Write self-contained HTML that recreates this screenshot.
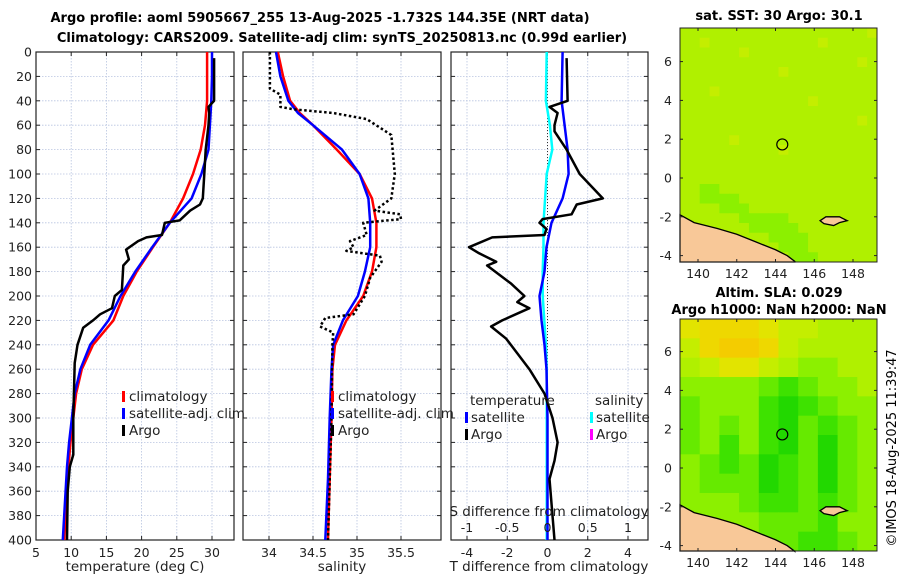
<!DOCTYPE html>
<html><head><meta charset="utf-8"><style>
body{margin:0;background:#fff}
svg{font-family:"DejaVu Sans","Liberation Sans",sans-serif}
</style></head><body>
<svg id="fig" width="900" height="580" xmlns="http://www.w3.org/2000/svg">
<text x="320" y="22" font-size="13" font-weight="bold" text-anchor="middle">Argo profile: aoml 5905667_255 13-Aug-2025 -1.732S 144.35E (NRT data)</text>
<text x="342" y="42" font-size="13" font-weight="bold" text-anchor="middle">Climatology: CARS2009. Satellite-adj clim: synTS_20250813.nc (0.99d earlier)</text>
<text x="779" y="20" font-size="13" font-weight="bold" text-anchor="middle">sat. SST: 30 Argo: 30.1</text>
<text x="779" y="297" font-size="13" font-weight="bold" text-anchor="middle">Altim. SLA: 0.029</text>
<text x="779" y="314" font-size="13" font-weight="bold" text-anchor="middle">Argo h1000: NaN h2000: NaN</text>
<text transform="translate(896,448) rotate(-90)" font-size="13" text-anchor="middle">©IMOS 18-Aug-2025 11:39:47</text>
<g id="plots"></g>
</svg>
<script>
// ---------- data ----------
const climDepth=[0,20,40,60,80,100,120,140,160,180,200,220,240,260,280,300,320,340,360,380,400];
const climT=[29.3,29.3,29.3,29.0,28.4,27.3,25.9,24.0,21.6,19.3,17.4,16.0,13.1,11.5,10.7,10.3,9.9,9.6,9.4,9.2,9.0];
const satT=[30.0,30.0,29.9,29.7,29.5,28.5,27.1,24.0,21.5,19.1,17.0,15.3,12.7,11.3,10.5,10.1,9.7,9.4,9.2,9.0,8.8];
const argoTDepth=[5,40,45,50,60,80,100,120,125,130,138,140,150,152,155,162,170,175,195,200,210,215,220,226,240,255,300,330,340,360,400];
const argoT=[30.3,30.3,29.5,29.6,29.5,29.1,28.9,28.7,28.3,26.9,25.4,23.3,22.9,20.7,19.5,17.8,18.2,17.4,17.2,16.2,15.8,14.1,13.1,11.7,10.9,10.5,10.3,10.3,9.8,9.5,9.4];
const salDepth=[0,20,40,50,60,80,100,120,140,160,180,200,220,240,260,300,350,400];
const climS=[34.10,34.16,34.24,34.35,34.50,34.77,35.03,35.17,35.22,35.22,35.17,35.07,34.88,34.75,34.72,34.71,34.69,34.67];
const satS=[34.08,34.13,34.22,34.33,34.50,34.83,35.03,35.13,35.15,35.15,35.09,35.01,34.84,34.73,34.71,34.69,34.67,34.64];
const argoSDepth=[0,30,35,45,47,50,55,68,100,120,130,133,137,140,150,155,160,163,167,172,185,200,215,218,225,230,240,300,400];
const argoS=[34.01,34.01,34.13,34.13,34.28,34.73,35.11,35.39,35.43,35.39,35.20,35.49,35.50,35.07,35.11,34.92,34.96,34.88,35.26,35.28,35.15,35.09,34.96,34.64,34.58,34.73,34.72,34.71,34.67];
const diffDepth=[0,40,60,80,100,120,140,160,180,200,220,240,260,300,400];
const satTdiff=[0.75,0.7,0.85,1.0,1.05,0.75,0.2,-0.05,-0.15,-0.4,-0.3,-0.15,-0.05,0,0];
const satSdiff=[-0.01,-0.02,0.03,0.06,-0.01,-0.03,-0.05,-0.05,-0.06,-0.06,-0.04,-0.02,-0.01,-0.01,-0.01];
const argoDiffDepth=[5,40,45,50,60,65,80,100,120,125,133,137,140,145,150,152,160,165,172,175,190,200,205,210,220,225,235,260,280,300,320,335,350,380,400];
const argoTdiff=[0.95,1.0,0.1,0.5,0.35,0.35,0.95,1.6,2.75,1.45,1.2,-0.25,-0.4,-0.05,-0.15,-2.75,-3.9,-3.4,-2.55,-3.0,-1.8,-1.15,-1.5,-0.9,-2.25,-2.8,-2.05,-0.9,-0.15,0.25,0.5,0.35,0.1,0.25,0.35];
const depthTicks=[0,20,40,60,80,100,120,140,160,180,200,220,240,260,280,300,320,340,360,380,400];
const tTicks=[5,10,15,20,25,30];
const sTicks=[34,34.5,35,35.5];
const sTickLabels=["34","34.5","35","35.5"];
const dTicks=[-4,-2,0,2,4];
const sdTicks=[-1,-0.5,0,0.5,1];
const sdTickLabels=["-1","-0.5","0","0.5","1"];
const lonTicks=[140,142,144,146,148];
const latTicks1=[6,4,2,0,-2,-4];
const latTicks2=[6,4,2,0,-2,-4];
const sstGrid=["55555555555555555556","55655555555555655555","55555565555555555555","55555555555555555565","55555555556555555555","55555555555555555555","55565555555555555555","55555555555556555555","55555555555555555555","55555555555555555565","55555555555555555555","55555655555555555555","55555555556555555555","55555555555555555555","55555555555555555555","55555555555555555555","55445555555555555555","55444455555555555555","55554445555555555555","55555544444555555555","55555554444455555555","55555555544445555555","55555555554445555555","55555555555444555555"];
const slaGrid=["7888766555","6899865555","5677654455","4444323445","3444212344","3434213234","3424213134","4323123134","4333123134","4443223234","4444333244","4444332234"];
const profLon=144.35, profLat=1.73;
// ---------- helpers ----------
const NS="http://www.w3.org/2000/svg";
const root=document.getElementById('plots');
function mk(tag,attrs,parent){const e=document.createElementNS(NS,tag);for(const k in attrs)e.setAttribute(k,attrs[k]);(parent||root).appendChild(e);return e;}
const Y0=52,Y1=540;
const yD=d=>Y0+(d/400)*(Y1-Y0);
function lin(d0,d1,p0,p1){return v=>p0+(v-d0)/(d1-d0)*(p1-p0);}
function panel(name,x0,x1,xs,ticks,labels,showY){
  const g=mk('g',{});
  
  
  ticks.forEach(t=>{const l=mk('line',{x1:xs(t),x2:xs(t),y1:Y0,y2:Y1,stroke:'#b8c4e0','stroke-width':0.8,'stroke-dasharray':'1.5,1.5'},g);
    });
  depthTicks.forEach(d=>{const l=mk('line',{x1:x0,x2:x1,y1:yD(d),y2:yD(d),stroke:'#b8c4e0','stroke-width':0.8,'stroke-dasharray':'1.5,1.5'},g);
    
    mk('line',{x1:x0,x2:x0+4,y1:yD(d),y2:yD(d),stroke:'#222'},g);mk('line',{x1:x1-4,x2:x1,y1:yD(d),y2:yD(d),stroke:'#222'},g);
    if(showY){const t=mk('text',{x:x0-4,y:yD(d)+4.5,'font-size':12.5,'text-anchor':'end',fill:'#222'},g);t.textContent=d;
      }});
  ticks.forEach((t,i)=>{mk('line',{x1:xs(t),x2:xs(t),y1:Y1,y2:Y1-4,stroke:'#222'},g);mk('line',{x1:xs(t),x2:xs(t),y1:Y0,y2:Y0+4,stroke:'#222'},g);
    const tx=mk('text',{x:xs(t),y:Y1+17,'font-size':12.5,'text-anchor':'middle',fill:'#222'},g);tx.textContent=labels[i];
    });
  mk('rect',{x:x0,y:Y0,width:x1-x0,height:Y1-Y0,fill:'none',stroke:'#222','stroke-width':1.2},g);
  return g;
}
function curve(g,name,xs,vals,depths,color,w,dash){
  const pts=vals.map((v,i)=>xs(v).toFixed(1)+','+yD(depths[i]).toFixed(1)).join(' ');
  const a={points:pts,fill:'none',stroke:color,'stroke-width':w,'stroke-linejoin':'round'};if(dash)a['stroke-dasharray']=dash;
  const p=mk('polyline',a,g);
  
  
}
function txt(g,name,x,y,s,size,anchor){const t=mk('text',{x:x,y:y,'font-size':size||12.5,'text-anchor':anchor||'start',fill:'#222'},g);t.textContent=s;
  return t;}
function legMark(g,name,x,y,color){const r=mk('rect',{x:x,y:y-10,width:3,height:11,fill:color},g);
  }
// ---------- panel 1 ----------
const xT=lin(5,30,36,212);
const g1=panel('temperature-panel',36,234,xT,tTicks,tTicks.map(String),true);
curve(g1,'temp-climatology-line',xT,climT,climDepth,'#ff0000',2.5);
curve(g1,'temp-satellite-line',xT,satT,climDepth,'#0000ff',2.5);
curve(g1,'temp-argo-line',xT,argoT,argoTDepth,'#000',2.5);
txt(g1,'temp-x-axis-title',135,571,'temperature (deg C)',13.5,'middle');
legMark(g1,'legend-climatology-mark',122,401,'#ff0000');txt(g1,'legend-climatology',129,401,'climatology',13.5);
legMark(g1,'legend-satellite-mark',122,418,'#0000ff');txt(g1,'legend-satellite',129,418,'satellite-adj. clim',13.5);
legMark(g1,'legend-argo-mark',122,435,'#000');txt(g1,'legend-argo',129,435,'Argo',13.5);
// ---------- panel 2 ----------
const xS=lin(34,35.5,269,401);
const g2=panel('salinity-panel',243,441,xS,sTicks,sTickLabels,false);
curve(g2,'sal-climatology-line',xS,climS,salDepth,'#ff0000',2.5);
curve(g2,'sal-satellite-line',xS,satS,salDepth,'#0000ff',2.5);
curve(g2,'sal-argo-line',xS,argoS,argoSDepth,'#000',2.5,'2.5,2.5');
txt(g2,'sal-x-axis-title',342,571,'salinity',13.5,'middle');
legMark(g2,'legend-climatology-mark',331,401,'#ff0000');txt(g2,'legend-climatology',338,401,'climatology',13.5);
legMark(g2,'legend-satellite-mark',331,418,'#0000ff');txt(g2,'legend-satellite',338,418,'satellite-adj. clim',13.5);
legMark(g2,'legend-argo-mark',331,435,'#000');txt(g2,'legend-argo',338,435,'Argo',13.5);
// ---------- panel 3 ----------
const xD=lin(-4,4,467,628);
const xSD=lin(-1,1,467,628);
const g3=panel('difference-panel',451,648,xD,dTicks,dTicks.map(String),false);
mk('line',{x1:xD(0),x2:xD(0),y1:Y0,y2:Y1,stroke:'#333','stroke-width':1,'stroke-dasharray':'1,2'},g3);
curve(g3,'sdiff-satellite-line',xSD,satSdiff,diffDepth,'#00ffff',2.5);
curve(g3,'tdiff-satellite-line',xD,satTdiff,diffDepth,'#0000ff',2.5);
curve(g3,'tdiff-argo-line',xD,argoTdiff,argoDiffDepth,'#000',2.5);
sdTicks.forEach((t,i)=>txt(g3,'sdiff-tick-label',xSD(t),532,sdTickLabels[i],12.5,'middle'));
txt(g3,'sdiff-axis-title',549,516,'S difference from climatology',13.5,'middle');
txt(g3,'tdiff-x-axis-title',549,571,'T difference from climatology',13.5,'middle');
txt(g3,'legend-temperature-heading',470,405,'temperature',13.5);
txt(g3,'legend-salinity-heading',595,405,'salinity',13.5);
legMark(g3,'legend-t-satellite-mark',465,422,'#0000ff');txt(g3,'legend-t-satellite',471,422,'satellite',13.5);
legMark(g3,'legend-t-argo-mark',465,439,'#000');txt(g3,'legend-t-argo',471,439,'Argo',13.5);
legMark(g3,'legend-s-satellite-mark',590,422,'#00ffff');txt(g3,'legend-s-satellite',596,422,'satellite',13.5);
legMark(g3,'legend-s-argo-mark',590,439,'#ff00ff');txt(g3,'legend-s-argo',596,439,'Argo',13.5);
// ---------- maps ----------
const cmap={"1":"#22d800","2":"#3ee200","3":"#66ea00","4":"#8cf000","5":"#b0f000","6":"#c4ee00","7":"#e2e400","8":"#eed800","9":"#f4cc00"};
function map(name,top,bottom,yLat0,grid,latTicks){
  const x0=680,x1=877;
  const xL=lin(140,148,698,853);
  const yL=lin(0,-2,yLat0,yLat0+38.8);
  const g=mk('g',{});
  
  
  const rows=grid.length, cols=grid[0].length;
  const lonL=140+(x0-698)/19.375, lonR=140+(x1-698)/19.375, latB=-(bottom-yLat0)/19.4, latT=(yLat0-top)/19.4;
  for(let r=0;r<rows;r++)for(let c=0;c<cols;c++){
    const lat0=latT - r*(latT-latB)/rows;
    const lat1=latT - (r+1)*(latT-latB)/rows;
    const lo0=lonL+c*(lonR-lonL)/cols, lo1=lonL+(c+1)*(lonR-lonL)/cols;
    const cell=mk('rect',{x:xL(lo0),y:yL(lat0),width:xL(lo1)-xL(lo0)+0.5,height:yL(lat1)-yL(lat0)+0.5,fill:cmap[grid[r][c]]},g);
    
    
  }
  const land=mk('polygon',{points:[[x0,yL(-1.9)],[xL(139.8),yL(-2.3)],[xL(141),yL(-2.6)],[xL(142),yL(-2.9)],[xL(143),yL(-3.3)],[xL(143.5),yL(-3.5)],[xL(144),yL(-3.7)],[xL(144.6),yL(-4.0)],[xL(145),yL(-4.3)],[xL(145),bottom],[x0,bottom]].map(p=>p.join(',')).join(' '),fill:'#f8c898',stroke:'#000','stroke-width':1.3},g);
  
  const isl=mk('polygon',{points:[[xL(146.3),yL(-2.2)],[xL(146.6),yL(-2.0)],[xL(147.3),yL(-2.0)],[xL(147.7),yL(-2.2)],[xL(147.3),yL(-2.3)],[xL(147),yL(-2.45)],[xL(146.5),yL(-2.35)]].map(p=>p.join(',')).join(' '),fill:'#f8c898',stroke:'#000','stroke-width':1.3},g);
  
  const c=mk('circle',{cx:xL(profLon),cy:yL(profLat),r:5.5,fill:'none',stroke:'#000','stroke-width':1.2},g);
  
  mk('rect',{x:x0,y:top,width:x1-x0,height:bottom-top,fill:'none',stroke:'#222','stroke-width':1},g);
  lonTicks.forEach(t=>{mk('line',{x1:xL(t),x2:xL(t),y1:bottom,y2:bottom-3,stroke:'#222'},g);mk('line',{x1:xL(t),x2:xL(t),y1:top,y2:top+3,stroke:'#222'},g);
    txt(g,'lon-tick-label',xL(t),bottom+16,String(t),12.5,'middle');});
  latTicks.forEach(t=>{mk('line',{x1:x0,x2:x0+3,y1:yL(t),y2:yL(t),stroke:'#222'},g);mk('line',{x1:x1-3,x2:x1,y1:yL(t),y2:yL(t),stroke:'#222'},g);
    txt(g,'lat-tick-label',x0-8,yL(t)+4.5,String(t),12.5,'end');});
}
map('sst-map',28,262,178,sstGrid,latTicks1);
map('sla-map',319,551,468,slaGrid,latTicks2);
</script>
</body></html>
